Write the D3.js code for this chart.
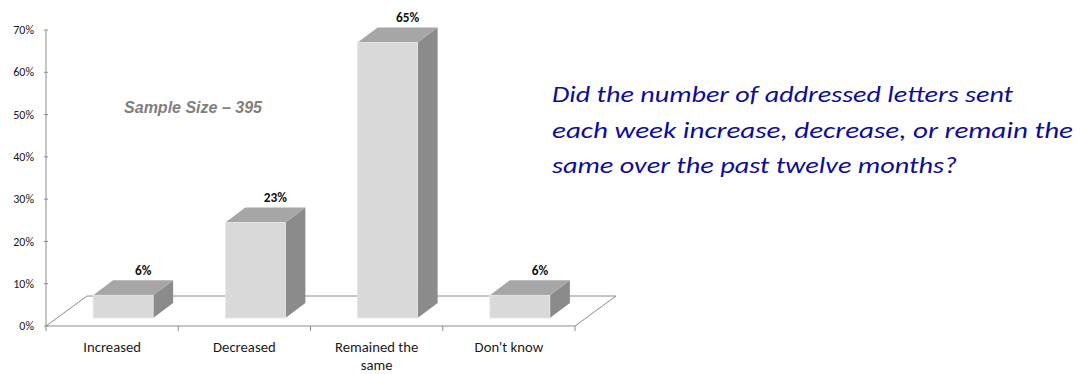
<!DOCTYPE html>
<html>
<head>
<meta charset="utf-8">
<script src="https://cdn.jsdelivr.net/npm/d3@7"></script>
<style>
  html, body { margin: 0; padding: 0; background: #ffffff; }
  svg { display: block; }
</style>
</head>
<body>
<svg id="chart" width="1080" height="374"></svg>
<script>
// Survey responses: change in weekly addressed letters
const categories = ["Increased", "Decreased", "Remained the same", "Don't know"];
const categoryLines = [["Increased"], ["Decreased"], ["Remained the", "same"], ["Don't know"]];
const values = [6, 23, 65, 6];
const valueLabels = ["6%", "23%", "65%", "6%"];
const yTicks = [0, 10, 20, 30, 40, 50, 60, 70];
const sampleNote = "Sample Size \u2013 395";
const questionLines = [
  "Did the number of addressed letters sent",
  "each week increase, decrease, or remain the",
  "same over the past twelve months?"
];

const svg = d3.select("#chart");
const font = "Carlito, Calibri, 'Liberation Sans', 'Noto Sans', sans-serif";

// Front plane of the floor and its depth offset
const x0 = 46, x1 = 575, yFloor = 326;
const depth = { dx: 41, dy: -30 };
// Bars sit slightly inside the floor and have their own depth
const barShift = { dx: 11, dy: -8 };
const barDepth = { dx: 20, dy: -15 };
const barWidth = 60;

const y = d3.scaleLinear().domain([0, 70]).range([yFloor, 30]);
const yBar = d3.scaleLinear().domain([0, 70]).range([321, 21]);
const x = d3.scaleBand().domain(categories).range([x0, x1]).padding(0);

const lineColor = "#8c8c8c";

// Floor parallelogram
svg.append("path")
  .attr("d", `M${x0},${yFloor} L${x0 + depth.dx},${yFloor + depth.dy} L${x1 + depth.dx},${yFloor + depth.dy} L${x1},${yFloor} Z`)
  .attr("fill", "none")
  .attr("stroke", lineColor)
  .attr("stroke-width", 1);

// Value axis
const yAxis = svg.append("g");
yAxis.append("line")
  .attr("x1", x0).attr("x2", x0)
  .attr("y1", y(70)).attr("y2", y(0))
  .attr("stroke", lineColor);
yAxis.selectAll("line.tick").data(yTicks).enter().append("line")
  .attr("class", "tick")
  .attr("x1", x0 - 2).attr("x2", x0 + 2)
  .attr("y1", d => y(d)).attr("y2", d => y(d))
  .attr("stroke", lineColor);
yAxis.selectAll("text").data(yTicks).enter().append("text")
  .attr("x", 34)
  .attr("y", d => y(d))
  .attr("dy", "0.35em")
  .attr("text-anchor", "end")
  .attr("font-family", font)
  .attr("font-size", 12)
  .attr("fill", "#1a1a1a")
  .text(d => d + "%");

// Category ticks below the front edge
const catTicks = categories.map(c => x(c)).concat([x1]);
svg.selectAll("line.cat").data(catTicks).enter().append("line")
  .attr("class", "cat")
  .attr("x1", d => d).attr("x2", d => d)
  .attr("y1", yFloor).attr("y2", yFloor + 5)
  .attr("stroke", lineColor);

// Category labels
const catG = svg.selectAll("g.catlabel").data(categories).enter().append("g")
  .attr("class", "catlabel");
catG.each(function (c, i) {
  const g = d3.select(this);
  categoryLines[i].forEach((ln, j) => {
    g.append("text")
      .attr("x", x(c) + x.bandwidth() / 2)
      .attr("y", 352 + j * 18)
      .attr("text-anchor", "middle")
      .attr("font-family", font)
      .attr("font-size", 14.7)
      .attr("fill", "#1a1a1a")
      .text(ln);
  });
});

// 3D bars
const bars = svg.selectAll("g.bar").data(values).enter().append("g").attr("class", "bar");
bars.each(function (v, i) {
  const g = d3.select(this);
  const cx = x(categories[i]) + x.bandwidth() / 2 + barShift.dx;
  const left = cx - barWidth / 2, right = cx + barWidth / 2;
  const bottom = yFloor + barShift.dy;
  const top = yBar(v);
  const dx = barDepth.dx, dy = barDepth.dy;
  // side face
  g.append("path")
    .attr("d", `M${right},${bottom} L${right},${top} L${right + dx},${top + dy} L${right + dx},${bottom + dy} Z`)
    .attr("fill", "#8b8b8b");
  // top face
  g.append("path")
    .attr("d", `M${left},${top} L${left + dx},${top + dy} L${right + dx},${top + dy} L${right},${top} Z`)
    .attr("fill", "#a6a6a6");
  // front face
  g.append("rect")
    .attr("x", left).attr("y", top)
    .attr("width", barWidth).attr("height", bottom - top)
    .attr("fill", "#d9d9d9")
    .attr("stroke", "#e6e6e6")
    .attr("stroke-width", 0.8);
  // value label
  g.append("text")
    .attr("x", cx + dx)
    .attr("y", top + dy - 5)
    .attr("text-anchor", "middle")
    .attr("font-family", font)
    .attr("font-size", 13.3)
    .attr("font-weight", "bold")
    .attr("fill", "#111")
    .text(valueLabels[i]);
});

// Sample size note
svg.append("text")
  .attr("x", 193)
  .attr("y", 113)
  .attr("text-anchor", "middle")
  .attr("font-family", "'Liberation Sans', Arial, sans-serif")
  .attr("font-size", 16)
  .attr("font-weight", "bold")
  .attr("font-style", "italic")
  .attr("fill", "#808080")
  .text(sampleNote);

// Survey question
const qWidths = [461, 521, 405];
svg.selectAll("text.q").data(questionLines).enter().append("text")
  .attr("class", "q")
  .attr("x", 552)
  .attr("y", (d, i) => 102 + i * 35.5)
  .attr("font-family", font)
  .attr("font-size", 22)
  .attr("font-style", "italic")
  .attr("fill", "#0d0d99")
  .attr("textLength", (d, i) => qWidths[i])
  .attr("lengthAdjust", "spacingAndGlyphs")
  .text(d => d);
</script>
</body>
</html>
